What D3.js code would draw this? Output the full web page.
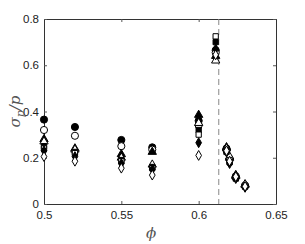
<!DOCTYPE html>
<html>
<head>
<meta charset="utf-8">
<script src="https://cdn.jsdelivr.net/npm/d3@7"></script>
<style>
  body { margin: 0; background: #fff; }
  svg { display: block; }
  .tick text { font-family: "Liberation Sans", Arial, sans-serif; font-size: 11.5px; fill: #222; }
</style>
</head>
<body>
<div id="chart"></div>
<script>
var svgWidth = 305;
var svgHeight = 244;
var margin = { top: 19, right: 29, bottom: 40, left: 44 };
var width = svgWidth - margin.left - margin.right;
var height = svgHeight - margin.top - margin.bottom;

// packing fractions, one column per marker group
var phi = [0.5, 0.52, 0.55, 0.57, 0.6, 0.611, 0.618, 0.62, 0.624, 0.63];

// sigma_p / p for each marker style
var filledCircle   = [0.365, 0.333, 0.277, 0.245, 0.36, 0.665, 0.235, 0.19, 0.115, 0.078];
var openCircle     = [0.32, 0.295, 0.25, 0.235, 0.34, 0.655, 0.24, 0.195, 0.12, 0.08];
var filledTriangle = [0.28, 0.24, 0.215, 0.225, 0.385, 0.64, 0.245, 0.2, 0.125, 0.083];
var openTriangle   = [0.27, 0.235, 0.2, 0.17, 0.35, 0.62, 0.24, 0.205, 0.12, 0.085];
var filledSquare   = [0.25, 0.225, 0.19, 0.16, 0.32, 0.70, 0.23, 0.18, 0.11, 0.075];
var openSquare     = [0.24, 0.22, 0.185, 0.155, 0.30, 0.725, 0.225, 0.19, 0.115, 0.078];
var filledDiamond  = [0.23, 0.205, 0.175, 0.15, 0.265, 0.67, 0.225, 0.175, 0.11, 0.072];
var openDiamond    = [0.205, 0.185, 0.155, 0.125, 0.21, 0.645, 0.23, 0.185, 0.118, 0.076];

var xTicks = [0.5, 0.55, 0.6, 0.65];
var yTicks = [0, 0.2, 0.4, 0.6, 0.8];
var phiJam = 0.613;

var series = [
  { vals: filledCircle, shape: d3.symbolCircle, fill: true },
  { vals: openCircle, shape: d3.symbolCircle, fill: false },
  { vals: filledTriangle, shape: d3.symbolTriangle, fill: true },
  { vals: openTriangle, shape: d3.symbolTriangle, fill: false },
  { vals: filledSquare, shape: d3.symbolSquare, fill: true },
  { vals: openSquare, shape: d3.symbolSquare, fill: false },
  { vals: filledDiamond, shape: d3.symbolDiamond, fill: true },
  { vals: openDiamond, shape: d3.symbolDiamond, fill: false }
];

var svg = d3.select("#chart")
    .append("svg")
    .attr("width", svgWidth)
    .attr("height", svgHeight);
var chart = svg.append("g")
    .attr("transform", `translate(${margin.left}, ${margin.top})`);

var x = d3.scaleLinear().domain([0.5, 0.65]).range([0, width]);
var y = d3.scaleLinear().domain([0, 0.8]).range([height, 0]);

// axes with inward ticks on all four sides
var fmt = d3.format("~g");
chart.append("g")
    .attr("transform", `translate(0, ${height})`)
    .call(d3.axisBottom(x).tickValues(xTicks).tickFormat(fmt).tickSizeInner(-3).tickSizeOuter(0).tickPadding(7));
chart.append("g")
    .call(d3.axisTop(x).tickValues(xTicks).tickFormat("").tickSizeInner(-3).tickSizeOuter(0));
chart.append("g")
    .call(d3.axisLeft(y).tickValues(yTicks).tickFormat(fmt).tickSizeInner(-3).tickSizeOuter(0).tickPadding(5));
chart.append("g")
    .attr("transform", `translate(${width}, 0)`)
    .call(d3.axisRight(y).tickValues(yTicks).tickFormat("").tickSizeInner(-3).tickSizeOuter(0));

chart.selectAll(".domain").attr("stroke", "#333");
chart.selectAll(".tick line").attr("stroke", "#555");

// dashed line at jamming point
chart.append("line")
    .attr("x1", x(phiJam)).attr("x2", x(phiJam))
    .attr("y1", 0).attr("y2", height)
    .attr("stroke", "#888")
    .attr("stroke-width", 1)
    .attr("stroke-dasharray", "6,4");

// markers
series.forEach(function(s) {
  var sizeArea = s.shape === d3.symbolCircle ? 40 : (s.shape === d3.symbolTriangle ? 30 : 28);
  var sym = d3.symbol().type(s.shape).size(sizeArea);
  chart.append("g").selectAll("path")
      .data(s.vals)
      .enter()
      .append("path")
      .attr("transform", (d, i) => `translate(${x(phi[i])}, ${y(d)})`)
      .attr("d", sym)
      .attr("fill", s.fill ? "#000" : "#fff")
      .attr("stroke", "#000")
      .attr("stroke-width", 1);
});

// axis labels
var yLab = chart.append("text")
    .attr("transform", `translate(${-24}, ${height / 2}) rotate(-90)`)
    .attr("text-anchor", "middle")
    .attr("font-family", "'DejaVu Serif', serif")
    .attr("font-style", "italic")
    .attr("font-size", 15)
    .attr("fill", "#555");
yLab.append("tspan").text("\u03C3");
yLab.append("tspan").attr("font-size", 11).attr("dy", 4).text("p");
yLab.append("tspan").attr("dy", -4).text("/p");

chart.append("text")
    .attr("x", width / 2 - 9)
    .attr("y", height + 34)
    .attr("text-anchor", "middle")
    .attr("font-family", "'DejaVu Serif', serif")
    .attr("font-style", "italic")
    .attr("font-size", 15)
    .attr("fill", "#555")
    .text("\u03D5");
</script>
</body>
</html>
